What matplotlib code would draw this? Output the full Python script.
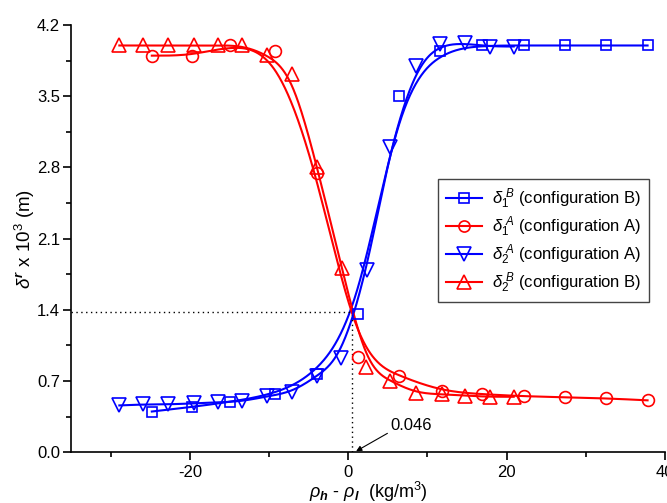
import numpy as np
import matplotlib
matplotlib.use("Agg")
import matplotlib.pyplot as plt

plt.rcParams['font.family'] = ['Liberation Sans', 'DejaVu Sans']
plt.rcParams['mathtext.fontset'] = 'custom'
plt.rcParams['mathtext.rm'] = 'Liberation Sans'
plt.rcParams['mathtext.it'] = 'Liberation Sans:italic'
plt.rcParams['mathtext.bf'] = 'Liberation Sans:bold'
plt.rcParams['mathtext.bfit'] = 'Liberation Sans:bold:italic'
plt.rcParams['axes.unicode_minus'] = False

# ---- data ----
x_d1B = [-24.8, -19.7, -14.9, -9.2, -3.9, 1.2, 6.4, 11.6, 16.9, 22.2, 27.4, 32.5, 37.8]
y_d1B = [0.40, 0.445, 0.495, 0.57, 0.77, 1.36, 3.50, 3.95, 4.00, 4.00, 4.00, 4.00, 4.00]

x_d1A = [-24.8, -19.7, -14.9, -9.2, -3.9, 1.2, 6.4, 11.8, 16.9, 22.2, 27.4, 32.5, 37.8]
y_d1A = [3.90, 3.90, 4.00, 3.95, 2.75, 0.94, 0.75, 0.60, 0.57, 0.55, 0.54, 0.53, 0.51]

x_d2A = [-28.9, -25.9, -22.7, -19.5, -16.5, -13.4, -10.2, -7.1, -3.9, -0.9, 2.4, 5.3, 8.6, 11.6, 14.8, 17.9, 20.9]
y_d2A = [0.46, 0.47, 0.47, 0.48, 0.49, 0.50, 0.55, 0.59, 0.75, 0.93, 1.79, 3.00, 3.80, 4.01, 4.02, 3.99, 3.99]

x_d2B = [-28.9, -25.9, -22.7, -19.5, -16.5, -13.4, -10.2, -7.1, -3.9, -0.8, 2.3, 5.3, 8.6, 11.8, 14.8, 17.9, 20.9]
y_d2B = [4.00, 4.00, 4.00, 4.00, 4.00, 4.00, 3.91, 3.72, 2.80, 1.81, 0.84, 0.70, 0.58, 0.57, 0.555, 0.545, 0.545]

labels = [r'$\delta_1^{\ B}$ (configuration B)', r'$\delta_1^{\ A}$ (configuration A)',
          r'$\delta_2^{\ A}$ (configuration A)', r'$\delta_2^{\ B}$ (configuration B)']

cross_x = 0.5
cross_y = 1.377
annot_text = "0.046"


def bspline(x, y, n=60):
    """Clamped uniform cubic B-spline using the data points as control points."""
    px = np.concatenate([[x[0], x[0]], x, [x[-1], x[-1]]]).astype(float)
    py = np.concatenate([[y[0], y[0]], y, [y[-1], y[-1]]]).astype(float)
    t = np.linspace(0, 1, n)
    b0 = (1 - t) ** 3 / 6
    b1 = (3 * t**3 - 6 * t**2 + 4) / 6
    b2 = (-3 * t**3 + 3 * t**2 + 3 * t + 1) / 6
    b3 = t**3 / 6
    xs, ys = [], []
    for i in range(len(px) - 3):
        xs.append(b0 * px[i] + b1 * px[i + 1] + b2 * px[i + 2] + b3 * px[i + 3])
        ys.append(b0 * py[i] + b1 * py[i + 1] + b2 * py[i + 2] + b3 * py[i + 3])
    return np.concatenate(xs), np.concatenate(ys)


fig = plt.figure(figsize=(6.67, 5.03), dpi=100)
ax = fig.add_axes([0.1065, 0.101, 0.8905, 0.849])

series = [
    (x_d1B, y_d1B, 'blue', 's', labels[0], 7.5),
    (x_d1A, y_d1A, 'red', 'o', labels[1], 8.5),
    (x_d2A, y_d2A, 'blue', 'v', labels[2], 10),
    (x_d2B, y_d2B, 'red', '^', labels[3], 10),
]
for xs_, ys_, c, m, lab, ms in series:
    xx, yy = bspline(xs_, ys_)
    ax.plot(xx, yy, color=c, lw=1.5, zorder=2)
    ax.plot(xs_, ys_, ls='none', marker=m, ms=ms, mfc='none', mec=c, mew=1.2, zorder=3)
    ax.plot([], [], color=c, lw=1.5, marker=m, ms=ms - 0.5, mfc='none', mec=c, mew=1.2, label=lab)

ax.plot([-35, cross_x], [cross_y, cross_y], color='black', ls=(0, (1, 2.5)), lw=1)
ax.plot([cross_x, cross_x], [0, cross_y], color='black', ls=(0, (1, 2.5)), lw=1)
ax.annotate(annot_text, xy=(1.0, 0.01), xytext=(5.3, 0.26), fontsize=12,
            va='center', ha='left',
            arrowprops=dict(arrowstyle='-|>', color='black', lw=0.8, mutation_scale=8,
                            shrinkA=0, shrinkB=0, relpos=(0, 0.1)))

ax.set_xlim(-35, 40)
ax.set_ylim(0, 4.2)
ax.set_xticks([-20, 0, 20, 40])
ax.set_xticks([-30, -10, 10, 30], minor=True)
ax.set_yticks([0.0, 0.7, 1.4, 2.1, 2.8, 3.5, 4.2])
ax.set_yticks([0.35, 1.05, 1.75, 2.45, 3.15, 3.85], minor=True)
ax.set_yticklabels(['0.0', '0.7', '1.4', '2.1', '2.8', '3.5', '4.2'])
ax.spines['top'].set_visible(False)
ax.spines['right'].set_visible(False)
for s in ['left', 'bottom']:
    ax.spines[s].set_linewidth(1.2)
ax.tick_params(which='major', direction='out', length=6, width=1.2, labelsize=12)
ax.tick_params(axis='y', which='major', pad=2)
ax.tick_params(which='minor', direction='out', length=3.5, width=1.2)

ax.set_xlabel(r'$\rho_{\boldsymbol{h}}$ - $\rho_{\boldsymbol{l}}$  (kg/m$^3$)', fontsize=13, labelpad=0)
ax.set_ylabel(r'$\delta^{\boldsymbol{r}}$ x 10$^3$ (m)', fontsize=13.5, labelpad=0)

leg = ax.legend(loc='upper left', bbox_to_anchor=(0.618, 0.64), fontsize=12,
                frameon=True, fancybox=False, edgecolor='#444444', framealpha=1,
                handlelength=2.2, handletextpad=0.6, borderpad=0.45, labelspacing=0.22,
                borderaxespad=0)
leg.get_frame().set_linewidth(1.0)

fig.savefig('out.png', dpi=100)
